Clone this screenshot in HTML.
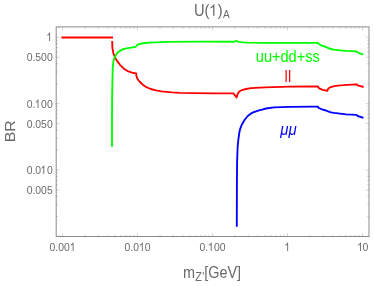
<!DOCTYPE html>
<html><head><meta charset="utf-8"><style>
html,body{margin:0;padding:0;background:#fff;}
svg{display:block;will-change:transform;font-family:"Liberation Sans",sans-serif;}
</style></head><body>
<svg width="374" height="286" viewBox="0 0 374 286">
<rect width="374" height="286" fill="#fff"/>
<polyline fill="none" stroke="#ff0000" stroke-width="1.85" stroke-linejoin="round" points="61.4,37.5 113.0,37.5"/>
<polyline fill="none" stroke="#ff0000" stroke-width="1.85" stroke-linejoin="round" points="112.2,41.0 112.4,48.0 113.4,53.3 115.0,57.4 117.4,61.4 120.0,64.8 122.0,66.9 124.0,68.7 126.0,70.1 128.0,71.2 130.0,72.0 132.1,72.6 134.0,73.0 136.2,73.3 136.3,75.0 136.6,76.6 137.2,78.2 138.1,79.8 139.2,81.2 140.5,82.5 141.8,83.8 143.2,85.1 146.4,87.2 150.7,89.0 156.0,90.4 161.4,91.3 166.7,91.8 172.1,92.3 180.0,92.8 193.5,93.1 215.0,93.3 233.4,93.4 236.6,97.5 237.2,95.5 237.7,94.0 238.7,92.1 240.0,91.0 241.4,90.4 243.5,89.6 246.0,89.0 251.0,88.2 265.0,87.3 290.0,86.7 315.0,86.5 318.0,86.5 318.8,88.1 322.0,89.7 327.3,90.9 328.1,88.9 330.1,87.3 334.1,86.1 340.0,85.3 343.4,85.2 356.5,84.3 357.7,85.3 363.6,87.0"/>
<polyline fill="none" stroke="#00ff00" stroke-width="1.85" stroke-linejoin="round" points="112.0,146.8 112.0,120.0 112.1,98.0 112.3,86.7 112.6,73.4 112.8,67.0 113.4,61.4 114.2,58.5 115.4,56.0 116.8,53.7 118.7,51.7 121.2,50.1 124.0,48.9 126.7,48.3 131.0,47.6 135.8,46.8 137.3,44.9 139.3,44.1 141.7,43.5 145.0,43.0 150.0,42.7 166.7,41.9 200.0,41.7 234.0,41.7 235.3,41.3 236.3,40.9 237.4,41.4 238.8,41.8 243.0,42.3 248.4,42.7 265.0,42.9 318.0,42.9 318.8,44.0 322.0,45.7 326.0,47.0 327.7,47.9 331.0,49.0 334.0,49.7 340.0,50.3 346.0,50.9 356.5,51.4 357.7,52.5 363.2,54.6"/>
<polyline fill="none" stroke="#0000ff" stroke-width="1.85" stroke-linejoin="round" points="236.8,226.8 236.9,183.6 237.1,162.0 237.6,147.6 238.0,143.0 238.4,139.5 238.8,136.3 239.3,132.8 240.0,129.6 240.9,126.9 241.9,124.5 243.3,122.0 244.5,120.0 246.1,118.0 248.1,115.7 250.0,114.2 252.1,112.9 254.0,112.0 256.1,111.3 259.0,110.4 262.1,109.7 266.0,108.5 274.0,107.4 290.0,106.8 315.0,106.7 318.0,106.7 318.8,108.0 322.0,109.3 326.0,110.5 328.1,111.3 330.9,112.3 334.1,112.9 340.0,113.6 346.0,114.3 356.5,114.9 357.7,116.0 363.5,117.9"/>
<rect x="56.15" y="26.9" width="312.85" height="209.6" fill="none" stroke="#666" stroke-width="0.76"/>
<path d="M59.07 236.50v-1.80M59.07 26.90v1.80M62.50 236.50v-3.40M62.50 26.90v3.40M85.08 236.50v-1.80M85.08 26.90v1.80M98.28 236.50v-1.80M98.28 26.90v1.80M107.65 236.50v-1.80M107.65 26.90v1.80M114.92 236.50v-1.80M114.92 26.90v1.80M120.86 236.50v-1.80M120.86 26.90v1.80M125.88 236.50v-1.80M125.88 26.90v1.80M130.23 236.50v-1.80M130.23 26.90v1.80M134.07 236.50v-1.80M134.07 26.90v1.80M137.50 236.50v-3.40M137.50 26.90v3.40M160.08 236.50v-1.80M160.08 26.90v1.80M173.28 236.50v-1.80M173.28 26.90v1.80M182.65 236.50v-1.80M182.65 26.90v1.80M189.92 236.50v-1.80M189.92 26.90v1.80M195.86 236.50v-1.80M195.86 26.90v1.80M200.88 236.50v-1.80M200.88 26.90v1.80M205.23 236.50v-1.80M205.23 26.90v1.80M209.07 236.50v-1.80M209.07 26.90v1.80M212.50 236.50v-3.40M212.50 26.90v3.40M235.08 236.50v-1.80M235.08 26.90v1.80M248.28 236.50v-1.80M248.28 26.90v1.80M257.65 236.50v-1.80M257.65 26.90v1.80M264.92 236.50v-1.80M264.92 26.90v1.80M270.86 236.50v-1.80M270.86 26.90v1.80M275.88 236.50v-1.80M275.88 26.90v1.80M280.23 236.50v-1.80M280.23 26.90v1.80M284.07 236.50v-1.80M284.07 26.90v1.80M287.50 236.50v-3.40M287.50 26.90v3.40M310.08 236.50v-1.80M310.08 26.90v1.80M323.28 236.50v-1.80M323.28 26.90v1.80M332.65 236.50v-1.80M332.65 26.90v1.80M339.92 236.50v-1.80M339.92 26.90v1.80M345.86 236.50v-1.80M345.86 26.90v1.80M350.88 236.50v-1.80M350.88 26.90v1.80M355.23 236.50v-1.80M355.23 26.90v1.80M359.07 236.50v-1.80M359.07 26.90v1.80M362.50 236.50v-3.40M362.50 26.90v3.40M56.15 216.46h1.80M369.00 216.46h-1.80M56.15 204.77h1.80M369.00 204.77h-1.80M56.15 196.47h1.80M369.00 196.47h-1.80M56.15 190.04h3.40M369.00 190.04h-3.40M56.15 184.78h1.80M369.00 184.78h-1.80M56.15 180.34h1.80M369.00 180.34h-1.80M56.15 176.48h1.80M369.00 176.48h-1.80M56.15 173.09h1.80M369.00 173.09h-1.80M56.15 170.05h3.40M369.00 170.05h-3.40M56.15 150.06h1.80M369.00 150.06h-1.80M56.15 138.37h1.80M369.00 138.37h-1.80M56.15 130.07h1.80M369.00 130.07h-1.80M56.15 123.64h3.40M369.00 123.64h-3.40M56.15 118.38h1.80M369.00 118.38h-1.80M56.15 113.94h1.80M369.00 113.94h-1.80M56.15 110.08h1.80M369.00 110.08h-1.80M56.15 106.69h1.80M369.00 106.69h-1.80M56.15 103.65h3.40M369.00 103.65h-3.40M56.15 83.66h1.80M369.00 83.66h-1.80M56.15 71.97h1.80M369.00 71.97h-1.80M56.15 63.67h1.80M369.00 63.67h-1.80M56.15 57.24h3.40M369.00 57.24h-3.40M56.15 51.98h1.80M369.00 51.98h-1.80M56.15 47.54h1.80M369.00 47.54h-1.80M56.15 43.68h1.80M369.00 43.68h-1.80M56.15 40.29h1.80M369.00 40.29h-1.80M56.15 37.25h3.40M369.00 37.25h-3.40" stroke="#666" stroke-width="0.28" fill="none"/>
<path d="M50.06 41.00L49.15 41.00L49.15 34.45Q48.82 34.80 48.28 35.16Q47.74 35.51 47.32 35.69L47.32 34.69Q48.08 34.29 48.66 33.71Q49.23 33.13 49.47 32.59L50.06 32.59Z" fill="#6a6a6a"/>
<text transform="translate(26.65,61.44) scale(0.89,1)" text-anchor="start" font-size="11.7" fill="#6a6a6a">0.500</text>
<text transform="translate(26.65,107.85) scale(0.89,1)" text-anchor="start" font-size="11.7" fill="#6a6a6a">0.</text><path d="M38.48 108.00L37.57 108.00L37.57 101.45Q37.24 101.80 36.70 102.16Q36.16 102.51 35.74 102.69L35.74 101.69Q36.50 101.29 37.08 100.71Q37.65 100.13 37.89 99.59L38.48 99.59Z" fill="#6a6a6a"/><text transform="translate(41.12,107.85) scale(0.89,1)" text-anchor="start" font-size="11.7" fill="#6a6a6a">00</text>
<text transform="translate(26.65,127.84) scale(0.89,1)" text-anchor="start" font-size="11.7" fill="#6a6a6a">0.050</text>
<text transform="translate(26.65,174.25) scale(0.89,1)" text-anchor="start" font-size="11.7" fill="#6a6a6a">0.0</text><path d="M44.27 174.00L43.36 174.00L43.36 167.45Q43.03 167.80 42.49 168.16Q41.95 168.51 41.53 168.69L41.53 167.69Q42.29 167.29 42.87 166.71Q43.44 166.13 43.68 165.59L44.27 165.59Z" fill="#6a6a6a"/><text transform="translate(46.91,174.25) scale(0.89,1)" text-anchor="start" font-size="11.7" fill="#6a6a6a">0</text>
<text transform="translate(26.65,194.24) scale(0.89,1)" text-anchor="start" font-size="11.7" fill="#6a6a6a">0.005</text>
<text transform="translate(49.47,251.20) scale(0.89,1)" text-anchor="start" font-size="11.7" fill="#6a6a6a">0.00</text><path d="M73.56 251.00L72.65 251.00L72.65 244.45Q72.32 244.80 71.78 245.16Q71.25 245.51 70.82 245.69L70.82 244.69Q71.59 244.29 72.16 243.71Q72.74 243.13 72.97 242.59L73.56 242.59Z" fill="#6a6a6a"/>
<text transform="translate(124.47,251.20) scale(0.89,1)" text-anchor="start" font-size="11.7" fill="#6a6a6a">0.0</text><path d="M142.77 251.00L141.86 251.00L141.86 244.45Q141.53 244.80 140.99 245.16Q140.46 245.51 140.03 245.69L140.03 244.69Q140.80 244.29 141.37 243.71Q141.95 243.13 142.18 242.59L142.77 242.59Z" fill="#6a6a6a"/><text transform="translate(144.74,251.20) scale(0.89,1)" text-anchor="start" font-size="11.7" fill="#6a6a6a">0</text>
<text transform="translate(199.47,251.20) scale(0.89,1)" text-anchor="start" font-size="11.7" fill="#6a6a6a">0.</text><path d="M211.62 251.00L210.71 251.00L210.71 244.45Q210.38 244.80 209.84 245.16Q209.30 245.51 208.88 245.69L208.88 244.69Q209.64 244.29 210.22 243.71Q210.79 243.13 211.03 242.59L211.62 242.59Z" fill="#6a6a6a"/><text transform="translate(213.95,251.20) scale(0.89,1)" text-anchor="start" font-size="11.7" fill="#6a6a6a">00</text>
<path d="M288.12 251.00L287.20 251.00L287.20 244.45Q286.87 244.80 286.34 245.16Q285.80 245.51 285.37 245.69L285.37 244.69Q286.14 244.29 286.72 243.71Q287.29 243.13 287.53 242.59L288.12 242.59Z" fill="#6a6a6a"/>
<path d="M360.90 251.00L359.99 251.00L359.99 244.45Q359.66 244.80 359.12 245.16Q358.58 245.51 358.16 245.69L358.16 244.69Q358.92 244.29 359.50 243.71Q360.07 243.13 360.31 242.59L360.90 242.59Z" fill="#6a6a6a"/><text transform="translate(362.50,251.20) scale(0.89,1)" text-anchor="start" font-size="11.7" fill="#6a6a6a">0</text>
<text transform="translate(194.00,15.80) scale(0.92,1)" text-anchor="start" font-size="16" fill="#6a6a6a">U(</text>
<path d="M214.42 15.80L213.13 15.80L213.13 6.84Q212.66 7.32 211.91 7.81Q211.15 8.29 210.54 8.53L210.54 7.18Q211.63 6.62 212.44 5.83Q213.25 5.04 213.59 4.30L214.42 4.30Z" fill="#6a6a6a"/>
<text transform="translate(217.71,15.80) scale(0.92,1)" text-anchor="start" font-size="16" fill="#6a6a6a">)<tspan font-size="11" dy="2.4" dx="0.5">A</tspan></text>
<text transform="translate(183.00,277.70) scale(0.9,1)" text-anchor="start" font-size="16" fill="#6a6a6a">m<tspan font-size="12" dy="3.4" dx="0.3">Z</tspan><tspan font-size="12" dx="0.3">'</tspan><tspan dy="-3.4" dx="0">[GeV]</tspan></text>
<text transform="translate(14.7,131.2) rotate(-90) scale(1,0.91)" text-anchor="middle" font-size="16" fill="#6a6a6a">BR</text>
<text transform="translate(287.80,61.80) scale(0.91,1)" text-anchor="middle" font-size="16" fill="#00ff00">uu+dd+ss</text>
<text transform="translate(287.85,81.60) scale(0.91,1)" text-anchor="middle" font-size="16" fill="#ff0000">l<tspan dx="0.5">l</tspan></text>
<text transform="translate(288.50,135.30) scale(0.96,1)" text-anchor="middle" font-size="15.6" fill="#0000ff" font-style="italic">μμ</text>
</svg>
</body></html>
